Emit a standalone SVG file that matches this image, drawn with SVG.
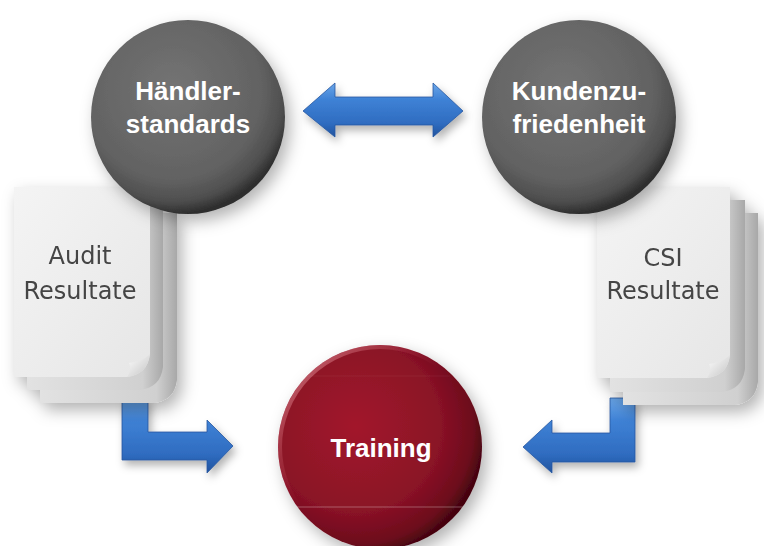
<svg xmlns="http://www.w3.org/2000/svg" width="764" height="546" viewBox="0 0 764 546">
<defs>
<style>
.ctext{font-family:"Liberation Sans",Arial,sans-serif;font-weight:bold;font-size:26px;fill:#ffffff;text-anchor:middle}
.dtext{font-family:"DejaVu Sans","Liberation Sans",sans-serif;font-size:24px;fill:#444444;text-anchor:middle}
.arrow{fill:url(#blue);stroke:#2757a0;stroke-width:0.8;stroke-linejoin:miter}
.front{fill:url(#page)}
.back{fill:url(#pageBack)}
.fold{fill:url(#foldG)}
</style>
<radialGradient id="gray" cx="0.42" cy="0.36" r="0.64">
<stop offset="0" stop-color="#747474"/>
<stop offset="0.72" stop-color="#626262"/>
<stop offset="0.9" stop-color="#4e4e4e"/>
<stop offset="1" stop-color="#2e2e2e"/>
</radialGradient>
<radialGradient id="red" cx="0.38" cy="0.4" r="0.64">
<stop offset="0" stop-color="#a2162c"/>
<stop offset="0.65" stop-color="#8a1226"/>
<stop offset="0.9" stop-color="#6c0c1c"/>
<stop offset="1" stop-color="#450510"/>
</radialGradient>
<linearGradient id="redRim" x1="0" y1="0" x2="1" y2="1">
<stop offset="0" stop-color="#e8a0a8" stop-opacity="0.8"/>
<stop offset="0.45" stop-color="#c04050" stop-opacity="0"/>
</linearGradient>
<linearGradient id="blue" x1="0" y1="0" x2="0" y2="1">
<stop offset="0" stop-color="#6aa6e8"/>
<stop offset="0.3" stop-color="#3f82d6"/>
<stop offset="0.75" stop-color="#2f6cc0"/>
<stop offset="1" stop-color="#22539e"/>
</linearGradient>
<linearGradient id="page" x1="0" y1="0" x2="1" y2="1">
<stop offset="0" stop-color="#f4f4f4"/>
<stop offset="1" stop-color="#e6e6e6"/>
</linearGradient>
<linearGradient id="pageBack" x1="0" y1="0" x2="1" y2="0">
<stop offset="0" stop-color="#e2e2e2"/>
<stop offset="0.85" stop-color="#d0d0d0"/>
<stop offset="1" stop-color="#a8a8a8"/>
</linearGradient>
<linearGradient id="foldG" x1="0" y1="0" x2="1" y2="1">
<stop offset="0" stop-color="#ffffff"/>
<stop offset="1" stop-color="#c4c4c4"/>
</linearGradient>
<filter id="shadow" x="-30%" y="-30%" width="160%" height="160%">
<feDropShadow dx="5" dy="7" stdDeviation="8" flood-color="#000" flood-opacity="0.3"/>
</filter>
<filter id="shadowS" x="-30%" y="-30%" width="160%" height="160%">
<feDropShadow dx="3" dy="5" stdDeviation="4" flood-color="#000" flood-opacity="0.3"/>
</filter>
<clipPath id="redClip"><circle cx="380" cy="447" r="102"/></clipPath>
</defs>
<rect width="764" height="546" fill="#ffffff"/>

<g id="connectors" filter="url(#shadowS)">
<polygon class="arrow" points="303,111 335,83 335,97 433,97 433,83 463,111 433,137 433,125 335,125 335,137"/>
<polygon class="arrow" points="122,398 148,398 148,432 207,432 207,420 233,446 207,473 207,460 122,460"/>
<polygon class="arrow" points="635,398 635,462 552,462 552,473 523,447 552,420 552,433 610,433 610,398"/>
</g>

<g id="audit" filter="url(#shadow)">
<path class="back" d="M40,213 H177 V380 C175,394 168,401 154,403 H40 Z"/>
<path class="back" d="M27,200 H163 V367 C161,381 154,388 140,390 H27 Z"/>
<path class="front" d="M14,187 H150 V354 C148,368 141,375 127,377 H14 Z"/>
<path class="fold" d="M150,354 C144,360 137,362 129,363 C131,368 130,373 127,377 C141,375 148,368 150,354 Z"/>
<text class="dtext" x="80" y="264">Audit</text>
<text class="dtext" x="80" y="299">Resultate</text>
</g>

<g id="csi" filter="url(#shadow)">
<path class="back" d="M623,213 H758 V382 C756,396 749,403 735,405 H623 Z"/>
<path class="back" d="M610,200 H745 V369 C743,383 736,390 722,392 H610 Z"/>
<path class="front" d="M597,187 H730 V355 C728,369 721,376 707,378 H597 Z"/>
<path class="fold" d="M730,355 C724,361 717,363 709,364 C711,369 710,374 707,378 C721,376 728,369 730,355 Z"/>
<text class="dtext" x="663" y="266">CSI</text>
<text class="dtext" x="663" y="299">Resultate</text>
</g>

<g id="haendler">
<circle cx="188" cy="117" r="97" fill="url(#gray)" filter="url(#shadow)"/>
<text class="ctext" x="188" y="100">Händler-</text>
<text class="ctext" x="188" y="133">standards</text>
</g>

<g id="kunden">
<circle cx="579" cy="117" r="97" fill="url(#gray)" filter="url(#shadow)"/>
<text class="ctext" x="579" y="100">Kundenzu-</text>
<text class="ctext" x="579" y="133">friedenheit</text>
</g>

<g id="training">
<circle cx="380" cy="447" r="102" fill="url(#red)" filter="url(#shadow)"/>
<circle cx="380" cy="447" r="100" fill="none" stroke="url(#redRim)" stroke-width="4"/>
<g clip-path="url(#redClip)" stroke="#ffffff" stroke-width="1">
<line x1="290" y1="507" x2="470" y2="507" stroke-opacity="0.3"/>
<line x1="300" y1="376" x2="450" y2="376" stroke-opacity="0.06"/>
</g>
<text class="ctext" x="381" y="457">Training</text>
</g>
</svg>
